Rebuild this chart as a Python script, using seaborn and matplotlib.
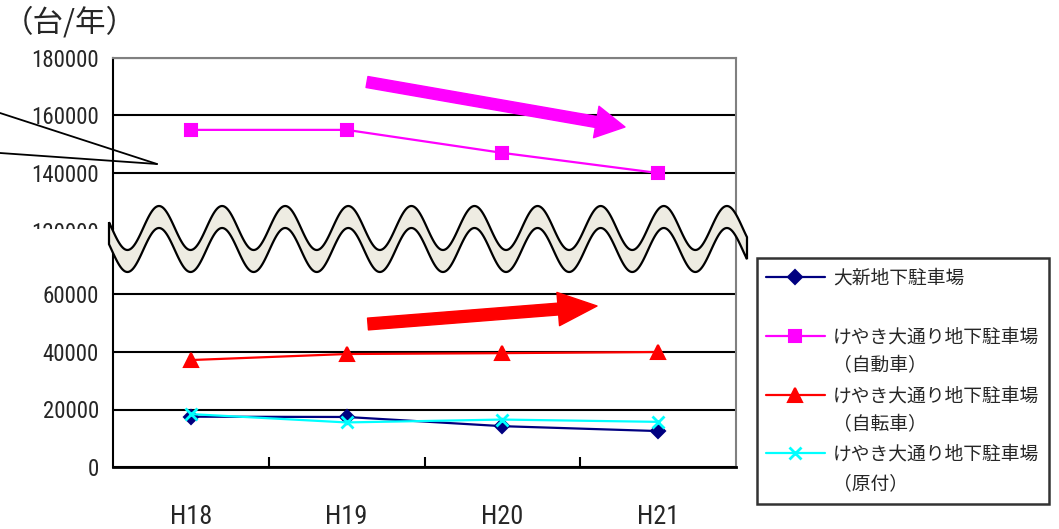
import matplotlib

matplotlib.use("Agg")
import matplotlib.pyplot as plt
import numpy as np
import pandas as pd
import seaborn as sns
from matplotlib.font_manager import FontProperties
from matplotlib.lines import Line2D
from matplotlib.patches import FancyArrowPatch, Polygon, Rectangle
from matplotlib.ticker import FixedLocator

# values (台/年)
years = ["H18", "H19", "H20", "H21"]
oshin = [17500, 17400, 14200, 12500]
keyaki_car = [155000, 155000, 147000, 140000]
keyaki_bike = [37200, 39300, 39600, 40000]
keyaki_moped = [18400, 15500, 16500, 15700]

series_names = ["大新地下駐車場", "けやき大通り地下駐車場", "けやき大通り地下駐車場", "けやき大通り地下駐車場"]
series_sub = [" ", "（自動車）", "（自転車）", "（原付）"]
colors = ["#000080", "#FF00FF", "#FF0000", "#00FFFF"]
top_ticks = [120000, 140000, 160000, 180000]
bottom_ticks = [0, 20000, 40000, 60000]

W, H = 1059, 529
PX_PER_20K = 57.5


def fx(x):
    return x / W


def fy(y):
    return 1 - y / H


sns.set_theme(style="white")
plt.rcParams["font.family"] = ["Liberation Sans Narrow", "Roboto Condensed", "Roboto",
                               "Noto Sans CJK JP", "DejaVu Sans"]
jp_font = FontProperties(family="Noto Sans CJK JP", size=13.5)

fig = plt.figure(figsize=(W / 100, H / 100), dpi=100)
ax_top = fig.add_axes([fx(113), fy(240), fx(736) - fx(113), (240 - 58) / H])
ax_bot = fig.add_axes([fx(113), fy(467), fx(736) - fx(113), (467 - 229) / H])

line_kw = dict(linewidth=1.6, markeredgewidth=1.5)
sns.lineplot(x=years, y=keyaki_car, ax=ax_top, color=colors[1], marker="s",
             markersize=8, markeredgecolor=colors[1], label="car", **line_kw)
sns.lineplot(x=years, y=oshin, ax=ax_bot, color=colors[0], marker="D",
             markersize=7, markeredgecolor=colors[0], label="oshin", **line_kw)
sns.lineplot(x=years, y=keyaki_bike, ax=ax_bot, color=colors[2], marker="^",
             markersize=10, markeredgecolor=colors[2], label="bike", **line_kw)
sns.lineplot(x=years, y=keyaki_moped, ax=ax_bot, color=colors[3], marker="x",
             markersize=9, markeredgecolor=colors[3], linewidth=1.6, markeredgewidth=2,
             label="moped")

h_top, _ = ax_top.get_legend_handles_labels()
h_bot, _ = ax_bot.get_legend_handles_labels()
for ax in (ax_top, ax_bot):
    if ax.get_legend() is not None:
        ax.get_legend().remove()

# axis ranges
ax_top.set_ylim(180000 - (240 - 58) / PX_PER_20K * 20000, 180000)
ax_bot.set_ylim(0, (467 - 229) / PX_PER_20K * 20000)
for ax in (ax_top, ax_bot):
    ax.set_xlim(-0.5, 3.5)
    ax.set_xlabel("")
    ax.set_ylabel("")
    ax.grid(axis="y", color="black", linewidth=1.5)
    ax.set_axisbelow(True)
    ax.tick_params(axis="y", direction="in", length=4, width=1.2, color="black",
                   pad=10, labelsize=16.5)
    ax.yaxis.set_major_formatter(matplotlib.ticker.FuncFormatter(lambda v, p: f"{v:.0f}"))
    ax.spines["left"].set_color("black")
    ax.spines["left"].set_linewidth(1.5)
    ax.spines["right"].set_color("#808080")
    ax.spines["right"].set_linewidth(1.5)

ax_top.set_yticks(top_ticks)
ax_bot.set_yticks(bottom_ticks)
ax_top.spines["bottom"].set_visible(False)
ax_top.spines["top"].set_color("#808080")
ax_top.spines["top"].set_linewidth(1.5)
ax_top.tick_params(axis="x", bottom=False, labelbottom=False)

ax_bot.spines["top"].set_visible(False)
ax_bot.spines["bottom"].set_color("black")
ax_bot.spines["bottom"].set_linewidth(2)
ax_bot.xaxis.set_minor_locator(FixedLocator([0.5, 1.5, 2.5]))
ax_bot.tick_params(axis="x", which="major", length=0, pad=27, labelsize=19)
ax_bot.tick_params(axis="x", which="minor", bottom=True, direction="in",
                   length=7, width=1.5, color="black")

# unit label
fig.text(fx(3), fy(23), "（台/年）", fontproperties=FontProperties(family="Noto Sans CJK JP", size=22),
         ha="left", va="center")

# white cover hiding the lower part of the top axis labels
fig.add_artist(Rectangle((0, fy(252)), fx(111), (252 - 229) / H, transform=fig.transFigure,
                         facecolor="white", edgecolor="none", zorder=5))

# wavy break band
wx = np.linspace(109, 747, 700)
wy_top = 228 - 22 * np.cos(2 * np.pi * (wx - 159) / 63.1)
wy_bot = wy_top + 22
verts = np.column_stack([
    np.concatenate([wx, wx[::-1]]),
    np.concatenate([wy_top, wy_bot[::-1]]),
])
verts = np.column_stack([fx(verts[:, 0]), fy(verts[:, 1])])
fig.add_artist(Polygon(verts, closed=True, transform=fig.transFigure, facecolor="#EEECE2",
                       edgecolor="black", linewidth=1.6, zorder=6))

# callout lines at the left
for y0 in (113, 153):
    fig.add_artist(Line2D([0, fx(157)], [fy(y0), fy(164)], transform=fig.transFigure,
                          color="black", linewidth=1.3, zorder=4))

# trend arrows
fig.add_artist(FancyArrowPatch(posA=(fx(367), fy(82)), posB=(fx(625), fy(127)),
                               transform=fig.transFigure, color="#FF00FF", mutation_scale=1,
                               arrowstyle="simple,head_length=21,head_width=23,tail_width=8",
                               shrinkA=0, shrinkB=0, zorder=4))
fig.add_artist(FancyArrowPatch(posA=(fx(368), fy(324)), posB=(fx(597), fy(306)),
                               transform=fig.transFigure, color="#FF0000", mutation_scale=1,
                               arrowstyle="simple,head_length=28,head_width=24,tail_width=8.5",
                               shrinkA=0, shrinkB=0, zorder=4))

# legend: first line of each label sits beside the marker
blank = Line2D([], [], color="none")
handles = [h_bot[0], blank, h_top[0], blank, h_bot[1], blank, h_bot[2], blank]
labels = []
for name, sub in zip(series_names, series_sub):
    labels += [name, sub]
leg = fig.legend(handles, labels, loc="upper left", bbox_to_anchor=(fx(757), fy(258)),
                 borderaxespad=0, prop=jp_font, frameon=True, fancybox=False,
                 handlelength=3.1, handletextpad=0.45, labelspacing=0.45, borderpad=0.5)
leg.get_frame().set_edgecolor("black")
leg.get_frame().set_linewidth(1.8)

fig.savefig("out.png", dpi=100)
